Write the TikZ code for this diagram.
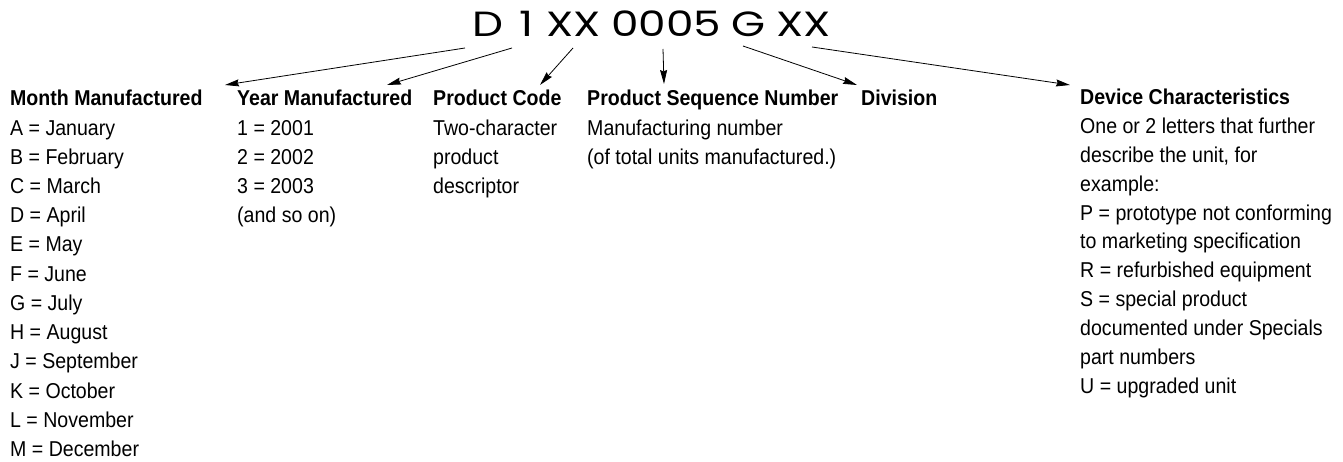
\documentclass[tikz,border=0pt]{standalone}
\usepackage{fontspec}
\setmainfont{Liberation Sans}[FakeStretch=0.91]
\newfontfamily\codefont{Poppins}[FakeStretch=1.25]
\usetikzlibrary{arrows.meta}

\tikzset{
    every node/.style={anchor=base west, inner sep=0pt},
    entry/.style={font=\fontsize{21.5}{25}\selectfont},
    head/.style={font=\fontsize{21.5}{25}\selectfont\bfseries},
    part/.style={font=\codefont\fontsize{35}{40}\selectfont},
    pointer/.style={line width=0.8pt, -{Stealth[length=14pt, width=7pt, inset=1.5pt]}}
}

\begin{document}
\begin{tikzpicture}[x=1pt, y=-1pt]
    \useasboundingbox (0,0) rectangle (1343,462);

    % the serial number, piece by piece
    \node [part] (p-month) at (472,36.7) {D};
    \node [part] (p-year)  at (519,36.7) {1};
    \node [part] (p-code)  at (546,36.7) {XX};
    \node [part] (p-seq)   at (611,36.7) {0005};
    \node [part] (p-div)   at (731,36.7) {G};
    \node [part] (p-dev)   at (776,36.7) {XX};

    % column heads
    \node [head] (month) at (10,106)  {Month Manufactured};
    \node [head] (year)  at (237,106) {Year Manufactured};
    \node [head] (code)  at (433,106) {Product Code};
    \node [head] (seq)   at (587,106) {Product Sequence Number};
    \node [head] (div)   at (861,106) {Division};
    \node [head] (dev)   at (1080,105) {Device Characteristics};

    % column entries
    \foreach \txt [count=\i] in {A = January, B = February, C = March, D = April,
            E = May, F = June, G = July, H = August, J = September, K = October,
            L = November, M = December}
        \node [entry] (month-\i) at (10,106+29.2*\i) {\txt};
    \foreach \txt [count=\i] in {1 = 2001, 2 = 2002, 3 = 2003, (and so on)}
        \node [entry] (year-\i) at (237,106+29.2*\i) {\txt};
    \foreach \txt [count=\i] in {Two-character, product, descriptor}
        \node [entry] (code-\i) at (433,106+29.2*\i) {\txt};
    \foreach \txt [count=\i] in {Manufacturing number, (of total units manufactured.)}
        \node [entry] (seq-\i) at (587,106+29.2*\i) {\txt};
    \foreach \txt [count=\i] in {One or 2 letters that further, {describe the unit, for},
            example:, P = prototype not conforming, to marketing specification,
            R = refurbished equipment, S = special product,
            documented under Specials, part numbers, U = upgraded unit}
        \node [entry] (dev-\i) at (1080,105+28.8*\i) {\txt};

    % pointers from the serial number
    \coordinate (from-month) at (465,48);  \coordinate (to-month) at (225,85);
    \coordinate (from-year)  at (512,48);  \coordinate (to-year)  at (387,85);
    \coordinate (from-code)  at (573,48);  \coordinate (to-code)  at (540,85);
    \coordinate (from-seq)   at (663,49);  \coordinate (to-seq)   at (664,84);
    \coordinate (from-div)   at (743,46);  \coordinate (to-div)   at (857,85);
    \coordinate (from-dev)   at (812,47);  \coordinate (to-dev)   at (1070,85);
    \foreach \c in {month, year, code, seq, div, dev}
        \draw [pointer] (from-\c) -- (to-\c);
\end{tikzpicture}
\end{document}
